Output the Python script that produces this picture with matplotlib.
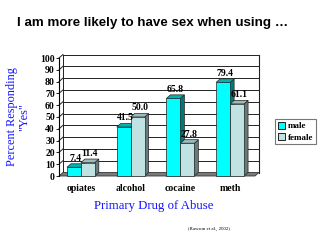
import numpy as np
import matplotlib
matplotlib.use('Agg')
import matplotlib.pyplot as plt
from matplotlib.patches import Polygon, Rectangle, Patch

# --- data ---
drugs = ['opiates', 'alcohol', 'cocaine', 'meth']
male = [7.4, 41.5, 65.8, 79.4]
female = [11.4, 50.0, 27.8, 61.1]
yticks = list(range(0, 101, 10))

# --- colours ---
male_front, male_side, male_top = '#00FFFF', '#007878', '#00B4B4'
fem_front, fem_side, fem_top = '#C0E2E2', '#687A7A', '#9CBCBC'
blue = '#1515FF'

W, H = 320, 240
fig = plt.figure(figsize=(3.2, 2.4), dpi=100)
fig.patch.set_facecolor('white')

# plot area in pixels (front face)
left_px, right_px, bot_px, top_px = 59, 255, 176, 58
ax = fig.add_axes([left_px / W, 1 - bot_px / H,
                   (right_px - left_px) / W, (bot_px - top_px) / H])
xmin, xmax = -0.44, 3.5
ax.set_xlim(xmin, xmax)
ax.set_ylim(0, 100)
ax.set_facecolor('none')

# depth of the 3d effect, px -> data
px_x = (xmax - xmin) / (right_px - left_px)
px_y = 100 / (bot_px - top_px)
dx, dy = 4 * px_x, 3.5 * px_y

# floor
ax.add_patch(Polygon([(xmin, 0), (xmax, 0), (xmax + dx, dy), (xmin + dx, dy)],
                     closed=True, fc='#7a7a7a', ec='#333333', lw=0.6,
                     clip_on=False, zorder=1))

# back wall + left wall gridlines
for v in yticks[1:]:
    ax.plot([xmin + dx, xmax + dx], [v + dy, v + dy], color='#222222', lw=0.7,
            clip_on=False, zorder=0.5)
    ax.plot([xmin, xmin + dx], [v, v + dy], color='#222222', lw=0.7,
            clip_on=False, zorder=0.5)
ax.plot([xmin + dx, xmin + dx], [dy, 100 + dy], color='#222222', lw=0.7,
        clip_on=False, zorder=0.5)
ax.plot([xmax + dx, xmax + dx], [dy, 100 + dy], color='#222222', lw=0.8,
        clip_on=False, zorder=0.5)


def bar3d(x0, w, h, front, side, top):
    ax.add_patch(Rectangle((x0, 0), w, h, fc=front, ec='#222222', lw=0.5,
                           clip_on=False, zorder=3))
    ax.add_patch(Polygon([(x0 + w, 0), (x0 + w + dx, dy), (x0 + w + dx, h + dy), (x0 + w, h)],
                         closed=True, fc=side, ec='#222222', lw=0.5,
                         clip_on=False, zorder=2))
    ax.add_patch(Polygon([(x0, h), (x0 + w, h), (x0 + w + dx, h + dy), (x0 + dx, h + dy)],
                         closed=True, fc=top, ec='#222222', lw=0.5,
                         clip_on=False, zorder=2))


bw = 0.28
x = np.arange(len(drugs))
for i in range(len(drugs)):
    bar3d(x[i] - bw, bw, male[i], male_front, male_side, male_top)
    bar3d(x[i], bw, female[i], fem_front, fem_side, fem_top)
    ax.text(x[i] - bw / 2 + dx / 2, male[i] + dy + 1, f'{male[i]:.1f}',
            ha='center', va='bottom', fontsize=7, fontweight='bold',
            family='Liberation Serif', zorder=5)
    ax.text(x[i] + bw / 2 + dx / 2, female[i] + dy + 1, f'{female[i]:.1f}',
            ha='center', va='bottom', fontsize=7, fontweight='bold',
            family='Liberation Serif', zorder=5)

# axes styling
for s in ['top', 'right', 'bottom']:
    ax.spines[s].set_visible(False)
ax.spines['left'].set_linewidth(0.8)
ax.set_yticks(yticks)
ax.set_yticklabels([str(v) for v in yticks], fontsize=7, fontweight='bold',
                   family='Liberation Serif')
ax.tick_params(axis='y', length=2, width=0.6, pad=1)
ax.set_xticks(x)
ax.set_xticklabels(drugs, fontsize=7, fontweight='bold', family='Liberation Serif')
ax.tick_params(axis='x', length=0, pad=6)

# texts
fig.text(17 / W, 1 - 23 / H, 'I am more likely to have sex when using \u2026',
         fontsize=9.6, fontweight='bold', family='Liberation Sans', va='center')
fig.text(154 / W, 1 - 206 / H, 'Primary Drug of Abuse', fontsize=9.2,
         family='Liberation Serif', color=blue, ha='center', va='center')
fig.text(18 / W, 1 - 117 / H, 'Percent Responding\n"Yes"', fontsize=8.8,
         family='Liberation Serif', color=blue, ha='center', va='center',
         rotation=90, multialignment='center', linespacing=1.05)
fig.text(209 / W, 1 - 229 / H, '(Rawson et al., 2002)', fontsize=3.5,
         family='Liberation Serif', ha='center', va='center')

# legend
handles = [Patch(fc=male_front, ec='black', lw=0.6, label='male'),
           Patch(fc=fem_front, ec='black', lw=0.6, label='female')]
leg = fig.legend(handles=handles, loc='upper left',
                 bbox_to_anchor=(275 / W, 1 - 119 / H),
                 prop={'family': 'Liberation Serif', 'weight': 'bold', 'size': 6.5},
                 frameon=True, fancybox=False, handlelength=0.8, handleheight=0.8,
                 borderpad=0.3, labelspacing=0.3, handletextpad=0.3,
                 borderaxespad=0)
leg.get_frame().set_edgecolor('#555555')
leg.get_frame().set_linewidth(0.8)

fig.savefig('out.png', dpi=100)
